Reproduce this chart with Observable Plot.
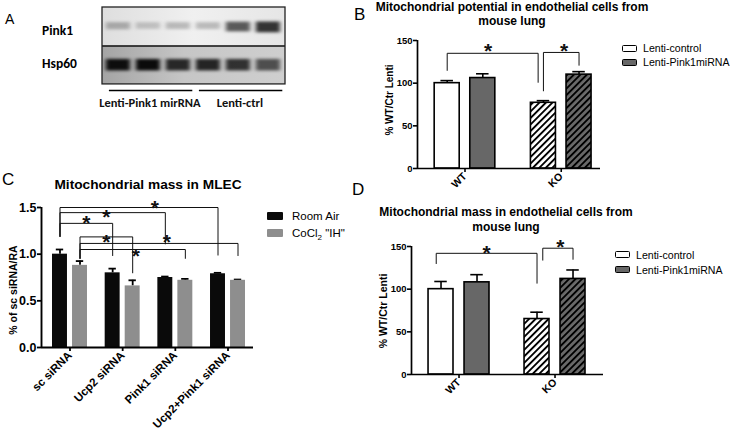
<!DOCTYPE html>
<html>
<head>
<meta charset="utf-8">
<script src="https://cdn.jsdelivr.net/npm/d3@7"></script>
<script src="https://cdn.jsdelivr.net/npm/@observablehq/plot@0.6"></script>
<style>
html,body{margin:0;padding:0;background:#fff;}
#root{position:relative;width:730px;height:432px;overflow:hidden;background:#fff;font-family:"Liberation Sans",Arial,Helvetica,sans-serif;color:#000;}
#root > div{position:absolute;}
.letter{font-size:17px;line-height:17px;}
.title{font-weight:bold;text-align:center;white-space:nowrap;}
.ylab{font-weight:bold;white-space:nowrap;transform:translate(-50%,-50%) rotate(-90deg);}
.leg{white-space:nowrap;}
.leg .row{display:flex;align-items:center;}
.sw{display:inline-block;box-sizing:border-box;flex:none;}
.blot{font-family:Carlito,Lato,"Open Sans",sans-serif;font-weight:bold;}
.sub{font-size:70%;position:relative;top:3px;}
</style>
</head>
<body>
<svg width="0" height="0" style="position:absolute">
  <defs>
    <pattern id="hatchW" patternUnits="userSpaceOnUse" width="4.6" height="4.6" patternTransform="rotate(45)">
      <rect width="4.6" height="4.6" fill="#ffffff"/>
      <rect width="1.9" height="4.6" fill="#000"/>
    </pattern>
    <pattern id="hatchG" patternUnits="userSpaceOnUse" width="4.6" height="4.6" patternTransform="rotate(45)">
      <rect width="4.6" height="4.6" fill="#6a6a6a"/>
      <rect width="1.9" height="4.6" fill="#000"/>
    </pattern>
    <linearGradient id="gPink" x1="0" x2="1" y1="0" y2="0">
      <stop offset="0" stop-color="#dedede"/>
      <stop offset="0.5" stop-color="#f0f0f0"/>
      <stop offset="1" stop-color="#e6e6e6"/>
    </linearGradient>
    <linearGradient id="gHsp" x1="0" x2="1" y1="0" y2="0">
      <stop offset="0" stop-color="#a4a4a4"/>
      <stop offset="0.45" stop-color="#c6c6c6"/>
      <stop offset="1" stop-color="#cfcfcf"/>
    </linearGradient>
    <filter id="bandBlur" x="-30%" y="-80%" width="160%" height="260%">
      <feGaussianBlur stdDeviation="2.2 1.6"/>
    </filter>
  </defs>
</svg>
<div id="root"></div>
<script>
// ---------------- DATA ----------------
// Panel A: western blot (band darkness 0..1 per lane)
const blotLanes = [1, 2, 3, 4, 5, 6];
const blotRowNames = ["Pink1", "Hsp60"];
const pink1Band = [0.26, 0.18, 0.22, 0.22, 0.62, 0.78];
const hsp60Band = [0.92, 0.94, 0.80, 0.82, 0.76, 0.62];
const blotGroupNames = ["Lenti-Pink1 mirRNA", "Lenti-ctrl"];
const blotGroupFirst = [1, 4];
const blotGroupLast = [3, 6];

// Panels B and D
const lentiGroups = ["WT", "KO"];
const lentiSeries = ["Lenti-control", "Lenti-Pink1miRNA"];
const bControl = [100, 77];
const bPink1 = [106, 110];
const bControlErr = [3, 2.5];
const bPink1Err = [5, 3.5];
const dControl = [100, 65];
const dPink1 = [108, 112];
const dControlErr = [9, 8];
const dPink1Err = [9, 10.5];
const lentiTicks = [0, 50, 100, 150];

// Panel C
const cGroups = ["sc siRNA", "Ucp2 siRNA", "Pink1 siRNA", "Ucp2+Pink1 siRNA"];
const cSeries = ["Room Air", "CoCl2 \"IH\""];
const cRoomAir = [1.00, 0.80, 0.75, 0.79];
const cCoCl = [0.88, 0.66, 0.72, 0.72];
const cRoomAirErr = [0.05, 0.045, 0.01, 0.01];
const cCoClErr = [0.046, 0.06, 0.015, 0.008];
const cTicks = [0, 0.5, 1.0, 1.5];

// significance brackets: a/b = [group, series], top = bar level, endA/endB = lower ends, sy = star level, t = star position along bracket
const bBrackets = [
  {a: [0, 0], b: [1, 0], top: 135, endA: 115, endB: 101, nb: -0.055, t: 0.45, sy: 144},
  {a: [1, 0], b: [1, 1], top: 136, endA: 91, endB: 121, t: 0.58, sy: 144}
];
const dBrackets = [
  {a: [0, 0], b: [1, 0], top: 142, endA: 130, endB: 107, na: -0.05, t: 0.5, sy: 149},
  {a: [1, 0], b: [1, 1], top: 148, endA: 134, endB: 135, na: 0.06, t: 0.58, sy: 156}
];
const cBrackets = [
  {a: [0, 0], b: [3, 0], top: 1.50, endA: 1.19, endB: 0.99, t: 0.6, sy: 1.555},
  {a: [0, 0], b: [2, 0], top: 1.445, endA: 1.19, endB: 1.11, t: 0.44, sy: 1.45},
  {a: [0, 0], b: [1, 0], top: 1.33, endA: 1.19, endB: 0.985, t: 0.5, sy: 1.39},
  {a: [0, 1], b: [1, 1], top: 1.185, endA: 0.955, endB: 0.80, t: 0.5, sy: 1.19},
  {a: [0, 1], b: [3, 1], top: 1.115, endA: 0.955, endB: 0.985, t: 0.55, sy: 1.19},
  {a: [0, 1], b: [2, 1], top: 1.05, endA: 0.955, endB: 0.955, t: 0.53, sy: 1.04}
];

// ---------------- HELPERS ----------------
const FONT = '"Liberation Sans", Arial, Helvetica, sans-serif';
const root = document.getElementById("root");
function put(node, left, top) {
  const d = document.createElement("div");
  d.style.left = left + "px";
  d.style.top = top + "px";
  if (typeof node === "string") d.innerHTML = node; else d.appendChild(node);
  root.appendChild(d);
  return d;
}
function fmtLabel(s) { return "<span>" + s.replace(/Cl2/, 'Cl<span class="sub">2</span>') + "</span>"; }

function bracketMarks(brackets, bx, starSize, lineWidth) {
  const pts = brackets.flatMap((b, i) => {
    const xa = bx(b.a) + (b.na || 0), xb = bx(b.b) + (b.nb || 0);
    return [{i, x: xa, y: b.endA}, {i, x: xa, y: b.top}, {i, x: xb, y: b.top}, {i, x: xb, y: b.endB}];
  });
  const stars = brackets.map(b => {
    const xa = bx(b.a) + (b.na || 0), xb = bx(b.b) + (b.nb || 0);
    return {x: xa + (xb - xa) * b.t, y: b.sy};
  });
  return [
    Plot.line(pts, {x: "x", y: "y", z: "i", stroke: "#111", strokeWidth: lineWidth, curve: "linear"}),
    Plot.text(stars, {x: "x", y: "y", text: () => "*", fontSize: starSize, fontWeight: "bold", dy: starSize * 0.26, fill: "#111"})
  ];
}
const plotStyle = {fontFamily: FONT, fontWeight: "bold", background: "transparent", color: "#000", overflow: "visible"};

// ---------------- PANEL A (blot) ----------------
(function () {
  const X0 = 0.47, X1 = 6.57;
  const bands = [
    ...blotLanes.map((l, i) => ({lane: l, row: 0, v: pink1Band[i]})),
    ...blotLanes.map((l, i) => ({lane: l, row: 1, v: hsp60Band[i]}))
  ];
  const halfH = d => d.row === 0 ? 0.07 + 0.09 * d.v : 0.15;
  const ctr = d => d.row === 0 ? 0.47 + 0.06 * d.v : 1.5;
  const groups = blotGroupNames.map((n, i) => ({n, a: blotGroupFirst[i], b: blotGroupLast[i]}));
  const svg = Plot.plot({
    width: 190, height: 104, marginLeft: 2, marginRight: 5, marginTop: 3, marginBottom: 1,
    x: {domain: [X0, X1], axis: null},
    y: {domain: [0, 2.6], reverse: true, axis: null},
    opacity: {domain: [0, 1], range: [0, 1]},
    style: {fontFamily: FONT, background: "transparent", overflow: "visible"},
    marks: [
      Plot.rect([blotRowNames[0]], {x1: () => X0, x2: () => X1, y1: () => 0, y2: () => 1, fill: "url(#gPink)"}),
      Plot.rect([blotRowNames[1]], {x1: () => X0, x2: () => X1, y1: () => 1, y2: () => 2, fill: "url(#gHsp)"}),
      Plot.rect(bands, {x1: d => d.lane - 0.4, x2: d => d.lane + 0.4, y1: d => ctr(d) - halfH(d), y2: d => ctr(d) + halfH(d),
        fill: "#000", fillOpacity: "v", ariaLabel: "bands"}),
      Plot.ruleY([1], {stroke: "#111", strokeWidth: 1.4}),
      Plot.rect([0], {x1: () => X0, x2: () => X1, y1: () => 0, y2: () => 2, fill: "none", stroke: "#222", strokeWidth: 1.3}),
      Plot.ruleY(groups, {y: () => 2.16, x1: d => d.a - 0.3, x2: d => d.b + 0.48, stroke: "#000", strokeWidth: 1.5}),
      Plot.text(groups, {x: d => (d.a + d.b) / 2 + 0.05, y: () => 2.48, text: "n", fontFamily: "Carlito, Lato, sans-serif", fontWeight: "bold", fontSize: 12.5, fill: "#111"})
    ]
  });
  let bandGroups = svg.querySelectorAll('g[aria-label="bands"]');
  if (!bandGroups.length) bandGroups = [svg.querySelectorAll("g")[2]];
  bandGroups.forEach(g => { if (g) g.setAttribute("filter", "url(#bandBlur)"); });
  put(svg, 100, 4);
  put('<span class="letter" style="font-size:14px">A</span>', 5, 10);
  put('<span class="blot" style="font-size:13.5px">' + blotRowNames[0] + '</span>', 42, 21);
  put('<span class="blot" style="font-size:13.5px">' + blotRowNames[1] + '</span>', 42, 54);
})();

// ---------------- PANELS B and D ----------------
function lentiPanel({ctrl, pink, ctrlErr, pinkErr, brackets, xDomain, marginLeft, marginRight, off, half}) {
  const rows = [];
  lentiGroups.forEach((g, gi) => {
    rows.push({gi, si: 0, v: ctrl[gi], e: ctrlErr[gi]});
    rows.push({gi, si: 1, v: pink[gi], e: pinkErr[gi]});
  });
  const xc = d => d.gi + (d.si ? off : -off);
  const bx = ([gi, si]) => gi + (si ? off : -off);
  const fills = [["#ffffff", "#676767"], ["url(#hatchW)", "url(#hatchG)"]];
  const bars = [];
  for (let gi = 0; gi < 2; gi++) for (let si = 0; si < 2; si++) {
    bars.push(Plot.rect(rows.filter(d => d.gi === gi && d.si === si), {
      x1: d => xc(d) - half, x2: d => xc(d) + half, y1: () => 0, y2: "v",
      fill: fills[gi][si], stroke: "#000", strokeWidth: 1.6
    }));
  }
  const cap = half * 0.5;
  return Plot.plot({
    width: 240, height: 165, marginLeft, marginRight, marginTop: 10, marginBottom: 27,
    x: {type: "linear", domain: xDomain},
    y: {domain: [0, 150]},
    style: plotStyle,
    marks: [
      Plot.ruleX(rows, {x: xc, y1: "v", y2: d => d.v + d.e, stroke: "#000", strokeWidth: 1.6}),
      Plot.ruleY(rows, {y: d => d.v + d.e, x1: d => xc(d) - cap, x2: d => xc(d) + cap, stroke: "#000", strokeWidth: 1.6}),
      ...bars,
      ...bracketMarks(brackets, bx, 21, 1),
      Plot.axisY({ticks: lentiTicks, tickSize: 4, tickPadding: 1, strokeWidth: 1.6, label: null, fontSize: 9.5, fontWeight: "bold"}),
      Plot.axisX({ticks: [0, 1], tickFormat: i => lentiGroups[i], tickRotate: -45, tickSize: 4, tickPadding: 2, strokeWidth: 1.6, label: null, fontSize: 10.5, fontWeight: "bold"}),
      Plot.ruleX([xDomain[0]], {stroke: "#000", strokeWidth: 1.7}),
      Plot.ruleY([0], {stroke: "#000", strokeWidth: 1.7})
    ]
  });
}
function lentiLegend(left, top, lh) {
  const sw = ['background:#fff;border:1.5px solid #000', 'background:#676767;border:1.5px solid #000'];
  const html = '<div class="leg" style="font-size:10.6px">' + lentiSeries.map((s, i) =>
    '<div class="row" style="height:' + lh + 'px"><span class="sw" style="width:15px;height:7px;margin-right:6px;border-radius:1.5px;' + sw[i] + '"></span><span>' + s + '</span></div>').join("") + '</div>';
  put(html, left, top);
}

put(lentiPanel({ctrl: bControl, pink: bPink1, ctrlErr: bControlErr, pinkErr: bPink1Err, brackets: bBrackets,
  xDomain: [-0.4935, 1.408], marginLeft: 47, marginRight: 10, off: 0.185, half: 0.13}), 370, 30);
put('<span class="letter">B</span>', 354, 6);
put('<div class="title" style="width:300px;font-size:12px;line-height:14px">Mitochondrial potential in endothelial cells from<br>mouse lung</div>', 362, 0);
put('<div class="ylab" style="font-size:10px">% WT/Ctr Lenti</div>', 389, 100);
lentiLegend(622, 41, 14);

put(lentiPanel({ctrl: dControl, pink: dPink1, ctrlErr: dControlErr, pinkErr: dPink1Err, brackets: dBrackets,
  xDomain: [-0.495, 1.505], marginLeft: 41, marginRight: 7, off: 0.1875, half: 0.13}), 370, 236);
put('<span class="letter">D</span>', 352, 181);
put('<div class="title" style="width:300px;font-size:12px;line-height:15px">Mitochondrial mass in endothelial cells from<br>mouse lung</div>', 356, 205);
put('<div class="ylab" style="font-size:10.5px">% WT/Ctr Lenti</div>', 383, 311);
lentiLegend(615, 247, 15);

// ---------------- PANEL C ----------------
(function () {
  const off = 0.19, half = 0.142, cap = 0.07;
  const rows = [];
  cGroups.forEach((g, gi) => {
    rows.push({gi, si: 0, v: cRoomAir[gi], e: cRoomAirErr[gi]});
    rows.push({gi, si: 1, v: cCoCl[gi], e: cCoClErr[gi]});
  });
  const xc = d => d.gi + (d.si ? off : -off);
  const bx = ([gi, si]) => gi + (si ? off : -off);
  const fills = ["#0a0a0a", "#8e8e8e"];
  const xDomain = [-0.541, 3.484];
  const svg = Plot.plot({
    width: 260, height: 237, marginLeft: 41, marginRight: 7, marginTop: 12, marginBottom: 85,
    x: {type: "linear", domain: xDomain},
    y: {domain: [0, 1.5]},
    style: plotStyle,
    marks: [
      Plot.ruleX(rows, {x: xc, y1: "v", y2: d => d.v + d.e, stroke: "#000", strokeWidth: 1.8}),
      Plot.ruleY(rows, {y: d => d.v + d.e, x1: d => xc(d) - cap, x2: d => xc(d) + cap, stroke: "#000", strokeWidth: 1.8}),
      ...[0, 1].map(si => Plot.rect(rows.filter(d => d.si === si), {x1: d => xc(d) - half, x2: d => xc(d) + half, y1: () => 0, y2: "v", fill: fills[si]})),
      ...bracketMarks(cBrackets, bx, 21, 1),
      Plot.axisY({ticks: cTicks, tickFormat: d3.format(".1f"), tickSize: 4, tickPadding: 1, strokeWidth: 1.8, label: null, fontSize: 12.5, fontWeight: "bold"}),
      Plot.axisX({ticks: [0, 1, 2, 3], tickFormat: i => cGroups[i], tickRotate: -45, tickSize: 4, tickPadding: 2, strokeWidth: 1.8, label: null, fontSize: 11.5, fontWeight: "bold"}),
      Plot.ruleX([xDomain[0]], {stroke: "#000", strokeWidth: 1.9}),
      Plot.ruleY([0], {stroke: "#000", strokeWidth: 1.9})
    ]
  });
  put(svg, 0, 195);
  put('<span class="letter">C</span>', 2, 171);
  put('<div class="title" style="width:240px;font-size:13.7px;line-height:16px">Mitochondrial mass in MLEC</div>', 28, 177);
  put('<div class="ylab" style="font-size:10.5px">% of sc siRNA/RA</div>', 13, 290);
  const html = '<div class="leg" style="font-size:11.5px">' + cSeries.map((s, i) =>
    '<div class="row" style="height:16.5px"><span class="sw" style="width:16px;height:8px;margin-right:9px;border-radius:1px;background:' + fills[i] + '"></span>' + fmtLabel(s) + '</div>').join("") + '</div>';
  put(html, 267, 208);
})();
</script>
</body>
</html>
